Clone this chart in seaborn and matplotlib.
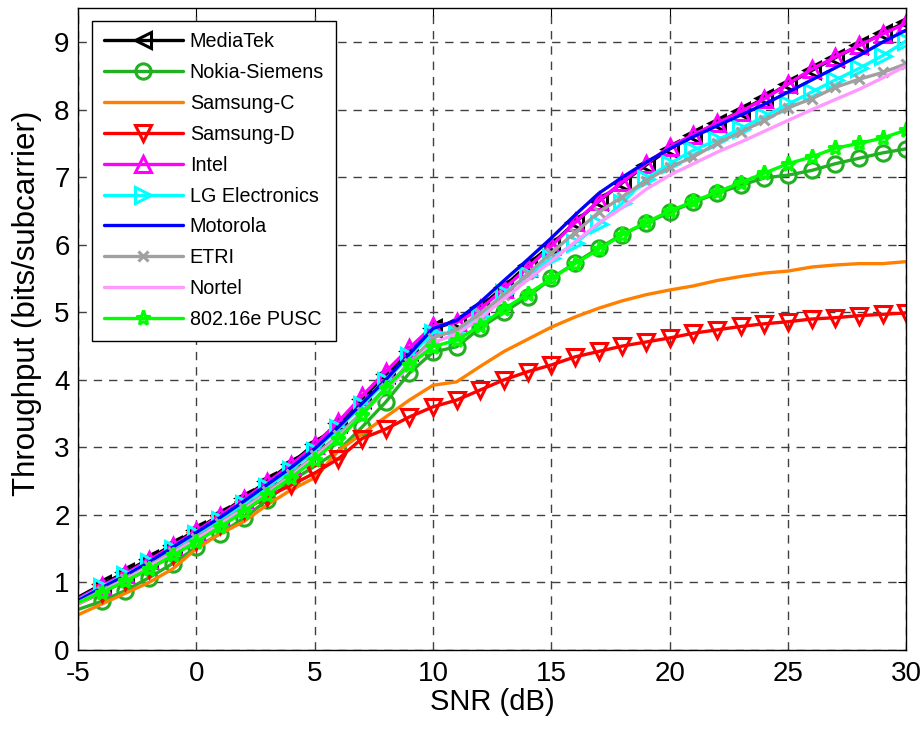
import numpy as np
import pandas as pd
import matplotlib
matplotlib.use("Agg")
import matplotlib.pyplot as plt
import seaborn as sns

snr = list(range(-5, 31))

mediatek = [0.78, 0.97, 1.15, 1.35, 1.56, 1.78, 2.00, 2.25, 2.50, 2.76, 3.05, 3.36, 3.72, 4.08, 4.43, 4.76,
            4.86, 5.08, 5.38, 5.70, 6.00, 6.33, 6.64, 6.92, 7.18, 7.42, 7.62, 7.80, 7.98, 8.17, 8.38, 8.58,
            8.77, 8.95, 9.13, 9.30]
nokia = [0.60, 0.72, 0.88, 1.07, 1.28, 1.52, 1.72, 1.95, 2.22, 2.50, 2.72, 2.95, 3.30, 3.67, 4.10, 4.41,
         4.49, 4.77, 5.00, 5.23, 5.50, 5.73, 5.95, 6.15, 6.32, 6.48, 6.63, 6.76, 6.88, 6.99, 7.03, 7.10,
         7.20, 7.28, 7.36, 7.42]
samsung_c = [0.52, 0.68, 0.84, 1.00, 1.20, 1.50, 1.72, 1.90, 2.15, 2.37, 2.55, 2.95, 3.20, 3.45, 3.70, 3.92,
             3.97, 4.20, 4.42, 4.60, 4.78, 4.93, 5.06, 5.17, 5.26, 5.33, 5.39, 5.47, 5.53, 5.58, 5.61, 5.67,
             5.70, 5.72, 5.72, 5.75]
samsung_d = [0.68, 0.85, 1.02, 1.20, 1.40, 1.62, 1.85, 2.07, 2.27, 2.44, 2.62, 2.83, 3.13, 3.27, 3.45, 3.60,
             3.70, 3.85, 4.00, 4.12, 4.22, 4.34, 4.42, 4.50, 4.56, 4.62, 4.69, 4.74, 4.79, 4.83, 4.86, 4.90,
             4.92, 4.95, 4.97, 4.99]
intel = [0.76, 0.95, 1.13, 1.33, 1.54, 1.76, 1.99, 2.23, 2.48, 2.74, 3.03, 3.38, 3.76, 4.12, 4.47, 4.80,
         4.85, 5.05, 5.35, 5.66, 5.98, 6.33, 6.65, 6.93, 7.20, 7.45, 7.63, 7.80, 7.97, 8.16, 8.38, 8.60,
         8.78, 8.95, 9.12, 9.28]
lg = [0.74, 0.93, 1.11, 1.30, 1.50, 1.71, 1.93, 2.16, 2.41, 2.67, 2.95, 3.28, 3.62, 3.98, 4.35, 4.70,
      4.68, 4.95, 5.28, 5.55, 5.80, 6.02, 6.30, 6.62, 6.98, 7.20, 7.40, 7.55, 7.72, 7.90, 8.08, 8.26,
      8.44, 8.61, 8.80, 9.02]
motorola = [0.73, 0.92, 1.10, 1.30, 1.52, 1.74, 1.96, 2.20, 2.45, 2.70, 2.98, 3.30, 3.65, 4.00, 4.38, 4.76,
            4.88, 5.15, 5.47, 5.78, 6.10, 6.44, 6.76, 7.00, 7.22, 7.42, 7.60, 7.76, 7.92, 8.08, 8.26, 8.44,
            8.62, 8.80, 9.00, 9.18]
etri = [0.70, 0.88, 1.05, 1.25, 1.45, 1.66, 1.88, 2.10, 2.35, 2.60, 2.88, 3.18, 3.52, 3.88, 4.25, 4.62,
        4.74, 4.99, 5.25, 5.57, 5.88, 6.18, 6.48, 6.71, 6.95, 7.15, 7.30, 7.50, 7.67, 7.84, 8.03, 8.16,
        8.33, 8.45, 8.55, 8.68]
nortel = [0.68, 0.86, 1.04, 1.23, 1.43, 1.64, 1.86, 2.08, 2.32, 2.57, 2.85, 3.15, 3.48, 3.84, 4.20, 4.55,
          4.68, 4.91, 5.20, 5.48, 5.76, 6.04, 6.32, 6.55, 6.82, 7.03, 7.20, 7.37, 7.52, 7.68, 7.84, 8.00,
          8.15, 8.30, 8.47, 8.65]
pusc = [0.70, 0.85, 1.02, 1.20, 1.40, 1.60, 1.82, 2.05, 2.30, 2.55, 2.82, 3.12, 3.48, 3.88, 4.22, 4.49,
        4.59, 4.80, 5.05, 5.27, 5.50, 5.72, 5.93, 6.15, 6.33, 6.50, 6.64, 6.78, 6.92, 7.06, 7.20, 7.30,
        7.43, 7.50, 7.58, 7.70]

labels = ["MediaTek", "Nokia-Siemens", "Samsung-C", "Samsung-D", "Intel",
          "LG Electronics", "Motorola", "ETRI", "Nortel", "802.16e PUSC"]
series = [mediatek, nokia, samsung_c, samsung_d, intel, lg, motorola, etri, nortel, pusc]
colors = ["#000000", "#22B022", "#FF8000", "#FF0000", "#FF00FF",
          "#00FFFF", "#0000FF", "#A0A0A0", "#FF99FF", "#00FF00"]
markers = ["<", "o", None, "v", "^", ">", None, "x", None, "*"]
msizes = [11, 11, 0, 11, 11, 11, 0, 7, 0, 11]

x_ticks = [-5, 0, 5, 10, 15, 20, 25, 30]
y_ticks = list(range(0, 10))

sns.set_style("white")
plt.rcParams["font.family"] = ["Liberation Sans", "DejaVu Sans"]
plt.rcParams["axes.unicode_minus"] = False
plt.rcParams["text.color"] = "black"
plt.rcParams["axes.labelcolor"] = "black"

fig = plt.figure(figsize=(9.23, 7.30), dpi=100)
ax = fig.add_axes([0.0845, 0.1096, 0.8975, 0.879])

for lab, vals, col, mk, ms in zip(labels, series, colors, markers, msizes):
    df = pd.DataFrame({"snr": snr, "tp": vals})
    kw = dict(color=col, linewidth=2.4, label=lab)
    if mk is not None:
        kw.update(marker=mk, markersize=ms, markerfacecolor="none",
                  markeredgecolor=col, markeredgewidth=2.2,
                  markevery=list(range(1, len(snr))))
    sns.lineplot(data=df, x="snr", y="tp", ax=ax, **kw)

ax.set_xlim(-5, 30)
ax.set_ylim(0, 9.5)
ax.set_xticks(x_ticks)
ax.set_xticklabels([str(t) for t in x_ticks])
ax.set_yticks(y_ticks)
ax.set_yticklabels([str(t) for t in y_ticks])
ax.grid(True, color="#404040", linestyle=(0, (6, 5)), linewidth=1.0)
ax.set_axisbelow(True)
for s in ax.spines.values():
    s.set_color("black")
    s.set_linewidth(1.0)
    s.set_visible(True)
ax.tick_params(direction="in", length=6, width=0.8, top=True, right=True,
               labelsize=20, colors="black")
ax.tick_params(axis="x", pad=8)
ax.tick_params(axis="y", pad=6)
ax.set_xlabel("SNR (dB)", fontsize=21, labelpad=1)
ax.set_ylabel("Throughput (bits/subcarrier)", fontsize=22.5)
ax.yaxis.set_label_coords(-0.044, 0.54)

leg = ax.legend(loc="upper left", bbox_to_anchor=(0.017, 0.981), fontsize=14.2,
                frameon=True, fancybox=False, framealpha=1, edgecolor="black",
                handlelength=4.0, handletextpad=0.35, labelspacing=0.6,
                borderpad=0.6, borderaxespad=0)
leg.get_frame().set_linewidth(1.0)

fig.savefig("out.png", dpi=100)
